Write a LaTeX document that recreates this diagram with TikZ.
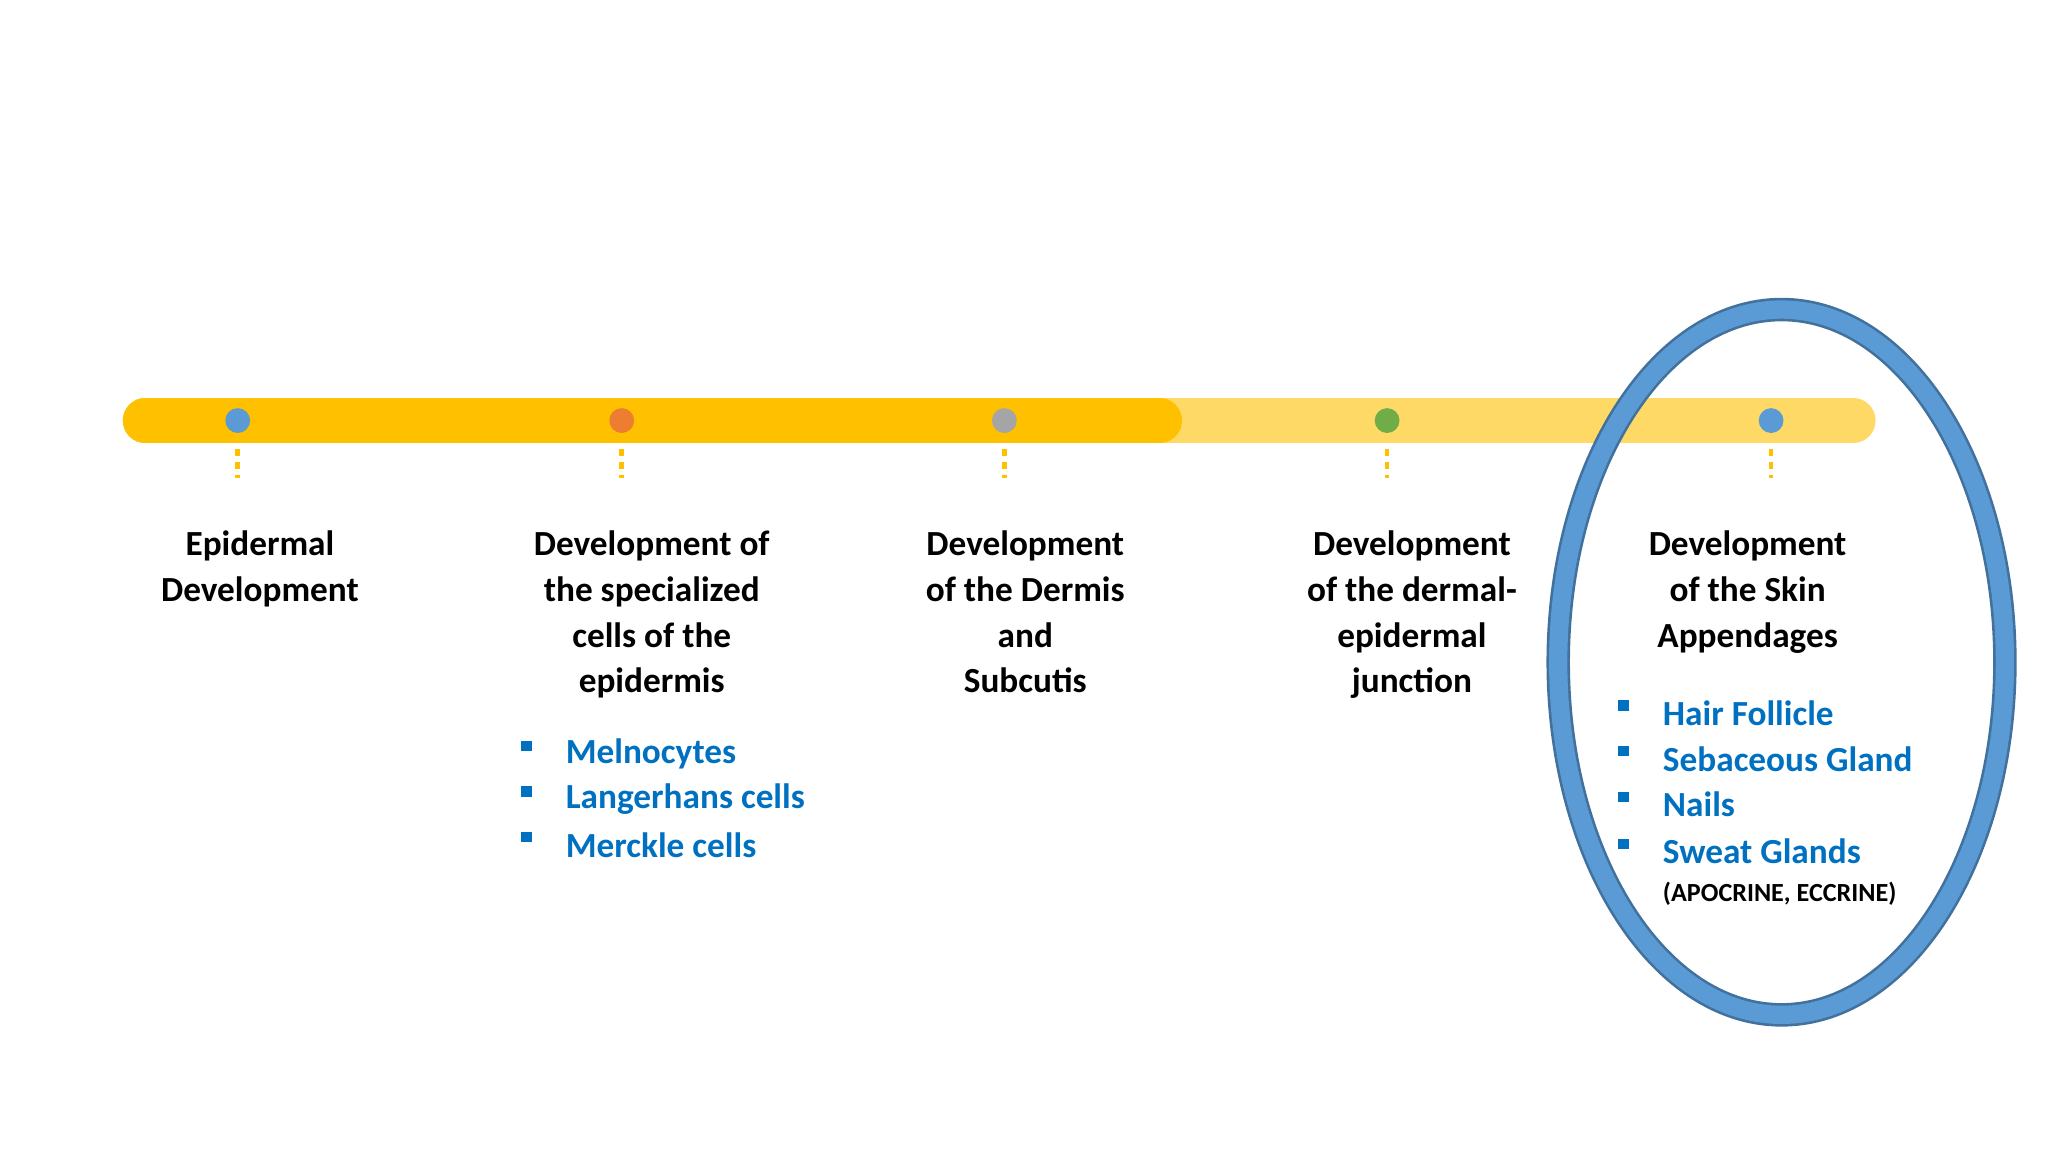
\documentclass[tikz,border=0pt]{standalone}
\usepackage{fontspec}
\setmainfont{Carlito}
\definecolor{barA}{HTML}{FFC000}
\definecolor{barB}{HTML}{FFD966}
\definecolor{dBlue}{HTML}{5B9BD5}
\definecolor{dOrange}{HTML}{ED7D31}
\definecolor{dGray}{HTML}{A5A5A5}
\definecolor{dGreen}{HTML}{70AD47}
\definecolor{txtBlue}{HTML}{0070C0}
\definecolor{ringEdge}{HTML}{41719C}
\tikzset{
 dotm/.style={circle,inner sep=0pt,minimum size=19pt},
 tick/.style={barA,line width=3.5pt,dash pattern=on 5pt off 5pt},
 head/.style={font=\fontsize{27}{35}\selectfont\bfseries,align=center,anchor=north},
 item/.style={font=\fontsize{27}{35}\selectfont\bfseries,text=txtBlue,anchor=west,inner sep=0pt},
 sq/.style={fill=txtBlue,minimum size=8pt,inner sep=0pt}
}
\begin{document}
\begin{tikzpicture}[x=1pt,y=-1pt]
\useasboundingbox (0,0) rectangle (1568,882);
\draw[barB,line width=34pt,line cap=round] (111,322) -- (1419,322);
\draw[barA,line width=34pt,line cap=round] (111,322) -- (888,322);
\foreach \x/\c/\n in {182/dBlue/a,476/dOrange/b,769/dGray/c,1062/dGreen/d,1356/dBlue/e}{
 \node[dotm,fill=\c] (\n) at (\x,322) {};
 \coordinate (\n t) at (\x,366);
 \draw[tick] (\x,344) -- (\n t);
}
\draw[ringEdge,line width=18pt] (1364,507) ellipse [x radius=171,y radius=270];
\draw[dBlue,line width=14pt] (1364,507) ellipse [x radius=171,y radius=270];
\node[head] at (199,403) {Epidermal\\Development};
\node[head] at (499,403) {Development of\\the specialized\\cells of the\\epidermis};
\node[head] at (785,403) {Development\\of the Dermis\\and\\Subcutis};
\node[head] at (1081,403) {Development\\of the dermal-\\epidermal\\junction};
\node[head] at (1338,403) {Development\\of the Skin\\Appendages};
\foreach \y/\t in {577/Melnocytes,612/Langerhans cells,647/Merckle cells}{
 \node[sq] at (403,\y-6) {};
 \node[item] at (433,\y) {\t};
}
\foreach \y/\t in {546/Hair Follicle,581/Sebaceous Gland,616/Nails,652/Sweat Glands}{
 \node[sq] at (1243,\y-6) {};
 \node[item] at (1273,\y) {\t};
}
\node[anchor=west,inner sep=0pt,font=\fontsize{20}{24}\selectfont\bfseries] at (1273,684) {(APOCRINE, ECCRINE)};
\end{tikzpicture}
\end{document}
